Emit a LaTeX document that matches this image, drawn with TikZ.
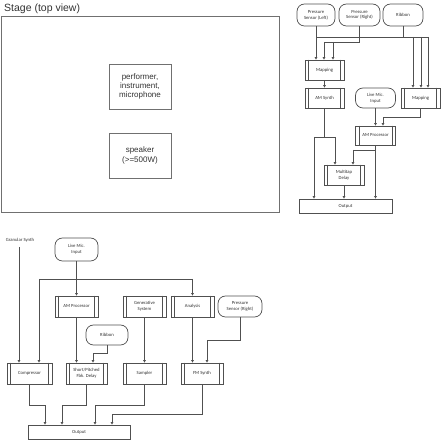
\documentclass[tikz,border=0pt]{standalone}
\usepackage{fontspec}
\setmainfont{Liberation Sans}
\newfontfamily\carlfont{Carlito}
\usetikzlibrary{arrows.meta}
\definecolor{lc}{HTML}{505050}
\definecolor{sc}{HTML}{707070}
\definecolor{tc}{HTML}{333333}
\begin{document}
\begin{tikzpicture}[x=1pt,y=-1pt,
  fc/.style={font=\carlfont\fontsize{4.7}{5.8}\selectfont, text=tc, align=center, inner sep=0pt},
  proc/.style={fc, draw=lc, line width=0.7pt, rectangle, fill=white},
  term/.style={fc, draw=lc, line width=0.7pt, rounded corners=7.5pt, fill=white},
  ln/.style={draw=lc, line width=0.7pt},
  arr/.style={ln, -{Triangle[length=2.6pt,width=2.6pt]}},
  sbox/.style={draw=sc, line width=0.9pt, font=\fontsize{8}{9.2}\selectfont, text=tc, align=center, inner sep=0pt},
]
\fill[white] (0,0) rectangle (448,443);
\useasboundingbox (0,0) rectangle (448,443);

% ---------- Stage ----------
\node[anchor=west, font=\fontsize{10.5}{12}\selectfont, text=tc, inner sep=0pt] (title) at (4,8.5) {Stage (top view)};
\node[draw=sc, line width=0.9pt, minimum width=278pt, minimum height=196pt, inner sep=0pt] (stage) at (140,114) {};
\node[sbox, minimum width=62pt, minimum height=45pt] (perf) at (140,86.5) {performer,\\instrument,\\microphone};
\node[sbox, minimum width=62pt, minimum height=45pt] (spk) at (140,155.5) {speaker\\(>=500W)};

% ---------- Right diagram ----------
\node[term, minimum width=38pt, minimum height=22pt] (psl) at (316,15) {Pressure\\Sensor (Left)};
\node[term, minimum width=41pt, minimum height=22pt] (psr) at (359.5,15) {Pressure\\Sensor (Right)};
\node[term, minimum width=40pt, minimum height=22pt] (rib1) at (403,15) {Ribbon};
\node[proc, minimum width=39pt, minimum height=20pt] (map1) at (324.5,70) {Mapping};
\node[proc, minimum width=39pt, minimum height=20pt] (ams) at (324.5,98) {AM Synth};
\node[term, minimum width=40pt, minimum height=20pt] (lmi1) at (375.5,98) {Live Mic.\\Input};
\node[proc, minimum width=39pt, minimum height=20pt] (map2) at (420.5,98) {Mapping};
\node[proc, minimum width=40pt, minimum height=19pt] (amp1) at (375.5,135.5) {AM Processor};
\node[proc, minimum width=40pt, minimum height=20pt] (mtd) at (344,175) {Multitap\\Delay};
\node[draw=lc, line width=0.7pt, fc, minimum width=93pt, minimum height=14pt] (out1) at (345.5,206) {Output};

\coordinate (ra) at (316,37);
\coordinate (rb) at (428,37);
\coordinate (rc) at (359.5,42);
\coordinate (rd) at (324,42);
\coordinate (re) at (333,42);
\draw[arr] (psl.south) -- (psl.south |- map1.north);
\draw[ln] (ra) -- (rb);
\draw[ln] (psr.south) -- (rc) -- (rd);
\draw[arr] (rd) -- (rd |- map1.north);
\draw[arr] (re) -- (re |- map1.north);
\draw[ln] (rib1.south) -- (rib1.south |- ra);
\foreach \x in {413,421,428} {
  \coordinate (tt) at (\x,37);
  \draw[arr] (tt) -- (tt |- map2.north);
}
\draw[arr] (map1) -- (ams);
\draw[arr] (lmi1.south) -- (lmi1.south |- amp1.north);
\draw[arr] (map2.south) -- ++(0,9) -| ([xshift=7.5pt]amp1.north);
\coordinate (s0) at (324.5,137);
\coordinate (s1) at (314,137);
\coordinate (s2) at (335,137);
\draw[ln] (ams.south) -- (s0);
\draw[ln] (s1) -- (s2);
\draw[arr] (s1) -- (s1 |- out1.north);
\draw[arr] (s2) -- (s2 |- mtd.north);
\draw[arr] (amp1.south) -- (amp1.south |- out1.north);
\coordinate (s3) at (375.5,150);
\coordinate (s4) at (353,150);
\draw[ln] (s3) -- (s4);
\draw[arr] (s4) -- (s4 |- mtd.north);
\draw[arr] (mtd.south) -- (mtd.south |- out1.north);

% ---------- Bottom diagram ----------
\node[fc] (gran) at (20,240) {Granular Synth};
\node[term, minimum width=43pt, minimum height=23pt] (lmi2) at (76.5,249.5) {Live Mic.\\Input};
\node[proc, minimum width=43pt, minimum height=21pt] (amp2) at (76.5,306.5) {AM Processor};
\node[proc, minimum width=43pt, minimum height=21pt] (gen) at (144.5,306.5) {Generative\\System};
\node[proc, minimum width=43pt, minimum height=21pt] (ana) at (192.5,306.5) {Analysis};
\node[term, minimum width=44pt, minimum height=21pt] (psr2) at (240,306.5) {Pressure\\Sensor (Right)};
\node[term, minimum width=42pt, minimum height=20pt] (rib2) at (107,335) {Ribbon};
\node[proc, minimum width=45pt, minimum height=21pt] (comp) at (29.5,373.5) {Compressor};
\node[proc, minimum width=41pt, minimum height=21pt] (spd) at (86.5,373.5) {Short/Pitched\\Fbk. Delay};
\node[proc, minimum width=43pt, minimum height=21pt] (samp) at (144.5,373.5) {Sampler};
\node[proc, minimum width=42pt, minimum height=21pt] (fm) at (202,373.5) {FM Synth};
\node[draw=lc, line width=0.7pt, fc, minimum width=102pt, minimum height=14pt] (out2) at (79,432) {Output};

\coordinate (g1) at (19,247);
\draw[arr] (g1) -- (g1 |- comp.north);
\draw[arr] (lmi2) -- (amp2);
\coordinate (t1) at (39,279);
\coordinate (t2) at (192.5,279);
\draw[ln] (t1) -- (t2);
\draw[arr] (t1) -- (t1 |- comp.north);
\draw[arr] (t2) -- (ana.north);
\draw[arr] (amp2.south) -- (amp2.south |- spd.north);
\draw[arr] (rib2.south) -- ++(0,8) -| ([xshift=6.5pt]spd.north);
\draw[arr] (gen) -- (samp);
\draw[arr] (ana.south) -- (ana.south |- fm.north);
\draw[arr] (psr2.south) -- ++(0,23) -| ([xshift=5pt]fm.north);
\draw[arr] (comp.south) -- ++(0,21) -| ([xshift=-34pt]out2.north);
\draw[arr] (spd.south) -- ++(0,21) -| ([xshift=-17pt]out2.north);
\draw[arr] (samp.south) -- ++(0,21) -| ([xshift=16pt]out2.north);
\draw[arr] (fm.south) -- ++(0,30) -| ([xshift=33pt]out2.north);

% inner lines of process boxes
\foreach \n in {map1,ams,map2,amp1,mtd,amp2,gen,ana,comp,spd,samp,fm} {
  \draw[ln] ([xshift=4pt]\n.north west) -- ([xshift=4pt]\n.south west)
            ([xshift=-4pt]\n.north east) -- ([xshift=-4pt]\n.south east);
}
\end{tikzpicture}
\end{document}
